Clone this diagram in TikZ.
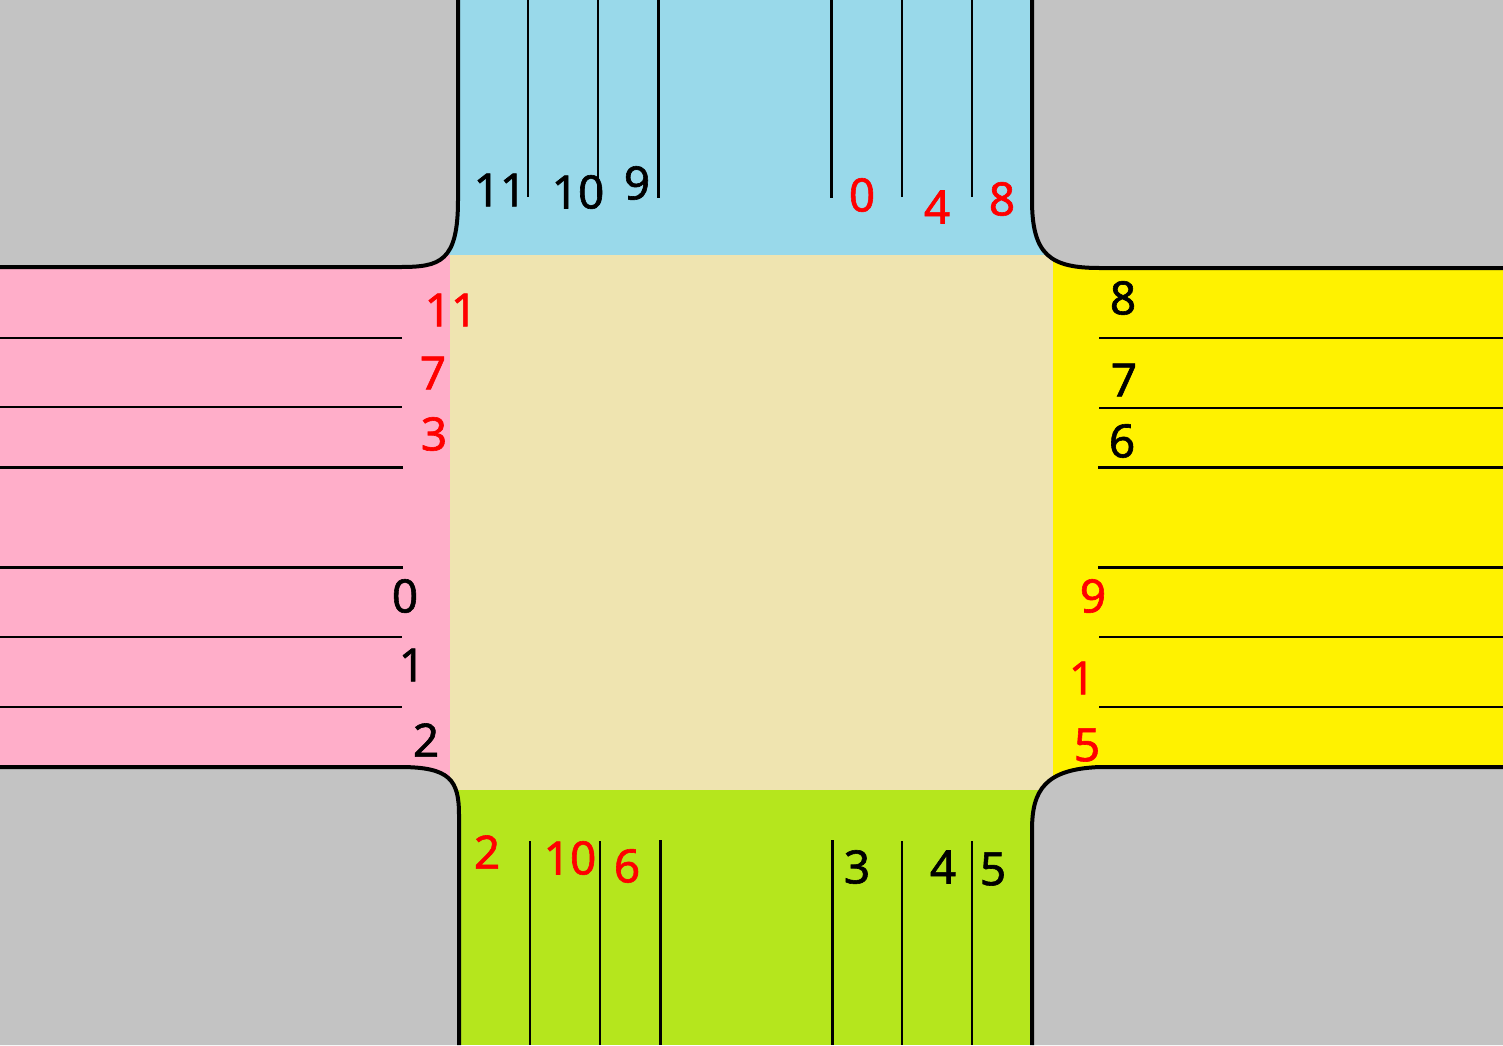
\documentclass[tikz,border=0pt]{standalone}
\usepackage{fontspec}
\setmainfont{Noto Sans}
\newfontfamily\lanefont[FakeBold=1.3]{Noto Sans}
\usepackage{tikz}
\usetikzlibrary{positioning}
\definecolor{roadgray}{HTML}{C3C3C3}
\definecolor{northblue}{HTML}{99D9EA}
\definecolor{westpink}{HTML}{FFAEC9}
\definecolor{eastyellow}{HTML}{FFF200}
\definecolor{southgreen}{HTML}{B5E61D}
\definecolor{centerbeige}{HTML}{EFE4B0}
\tikzset{
	lanenum/.style={inner sep=0pt, font=\lanefont\fontsize{46}{50}\selectfont},
	rednum/.style={lanenum, text=red},
	thinlane/.style={line width=1.4pt},
	thicklane/.style={line width=3pt},
	curb/.style={line width=4pt}
}

\begin{document}
\begin{tikzpicture}[x=1pt,y=-1pt]
	\useasboundingbox (0,0) rectangle (1503,1045);
	\fill [roadgray] (0,0) rectangle (1503,1045);
	% arms and the centre
	\fill [northblue] (440,0) rectangle (1050,255);
	\fill [westpink] (0,255) rectangle (450,790);
	\fill [eastyellow] (1053,255) rectangle (1503,790);
	\fill [southgreen] (440,790) rectangle (1050,1045);
	\fill [centerbeige] (450,255) rectangle (1053,790);
	% corners
	\filldraw [fill=roadgray, draw=none] (0,0) -- (458,0) -- (458,200) .. controls (458,262) and (440,267) .. (400,267) -- (0,267) -- cycle;
	\filldraw [fill=roadgray, draw=none] (1503,0) -- (1032,0) -- (1032,200) .. controls (1032,255) and (1050,268) .. (1100,268) -- (1503,268) -- cycle;
	\filldraw [fill=roadgray, draw=none] (0,1045) -- (0,767) -- (400,767) .. controls (450,767) and (459,780) .. (459,815) -- (459,1045) -- cycle;
	\filldraw [fill=roadgray, draw=none] (1503,1045) -- (1503,767) -- (1100,767) .. controls (1045,769) and (1032,790) .. (1032,830) -- (1032,1045) -- cycle;
	\draw [curb] (458,0) -- (458,200) .. controls (458,262) and (440,267) .. (400,267) -- (0,267);
	\draw [curb] (1032,0) -- (1032,200) .. controls (1032,255) and (1050,268) .. (1100,268) -- (1503,268);
	\draw [curb] (0,767) -- (400,767) .. controls (450,767) and (459,780) .. (459,815) -- (459,1045);
	\draw [curb] (1503,767) -- (1100,767) .. controls (1045,769) and (1032,790) .. (1032,830) -- (1032,1045);
	% lane lines
	\foreach \x in {528,598,902,972} \draw [thinlane] (\x,0) -- (\x,197);
	\foreach \x in {658,831} \draw [thicklane] (\x,0) -- (\x,198);
	\foreach \x in {530,600,902,972} \draw [thinlane] (\x,841) -- (\x,1045);
	\foreach \x in {660,832} \draw [thicklane] (\x,840) -- (\x,1045);
	\foreach \y in {338,407,637,707} \draw [thinlane] (0,\y) -- (402,\y);
	\foreach \y in {467,567} \draw [thicklane] (0,\y) -- (403,\y);
	\foreach \y in {338,408,637,707} \draw [thinlane] (1099,\y) -- (1503,\y);
	\foreach \y in {467,567} \draw [thicklane] (1098,\y) -- (1503,\y);
	% north numbers
	\node [lanenum] (n11) at (500,190) {11};
	\node [lanenum] (n10) at (578,192) {10};
	\node [lanenum] (n9) at (637,183) {9};
	\node [rednum] (n0) at (862,195) {0};
	\node [rednum] (n4) at (937,207) {4};
	\node [rednum] (n8) at (1002,199) {8};
	% west numbers
	\node [rednum] (w11) at (451,310) {11};
	\node [rednum] (w7) at (433,373) {7};
	\node [rednum] (w3) at (434,434) {3};
	\node [lanenum] (w0) at (405,596) {0};
	\node [lanenum] (w1) at (412,665) {1};
	\node [lanenum] (w2) at (426,740) {2};
	% east numbers
	\node [lanenum] (e8) at (1123,298) {8};
	\node [lanenum] (e7) at (1124,380) {7};
	\node [lanenum] (e6) at (1122,441) {6};
	\node [rednum] (e9) at (1093,596) {9};
	\node [rednum] (e1) at (1082,678) {1};
	\node [rednum] (e5) at (1087,745) {5};
	% south numbers
	\node [rednum] (s2) at (487,852) {2};
	\node [rednum] (s10) at (570,858) {10};
	\node [rednum] (s6) at (627,866) {6};
	\node [lanenum] (s3) at (857,867) {3};
	\node [lanenum] (s4) at (943,867) {4};
	\node [lanenum] (s5) at (993,869) {5};
\end{tikzpicture}
\end{document}
